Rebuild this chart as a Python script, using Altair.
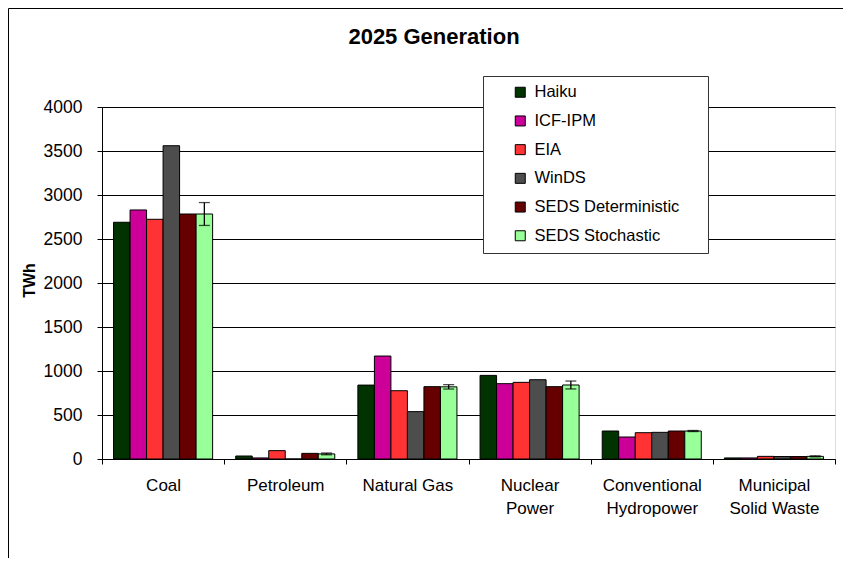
import altair as alt
import pandas as pd

categories = ["Coal", "Petroleum", "Natural Gas", "Nuclear Power",
              "Conventional Hydropower", "Municipal Solid Waste"]
cat_labels = ["Coal", "Petroleum", "Natural Gas", "Nuclear|Power",
              "Conventional|Hydropower", "Municipal|Solid Waste"]
series = ["Haiku", "ICF-IPM", "EIA", "WinDS", "SEDS Deterministic", "SEDS Stochastic"]
colors = ["#003300", "#CC0099", "#FF3333", "#4D4D4D", "#660000", "#99FF99"]

haiku = [2690, 34, 840, 950, 318, 12]
icf_ipm = [2830, 12, 1170, 856, 250, 12]
eia = [2724, 95, 776, 871, 299, 30]
winds = [3560, 0, 538, 901, 303, 28]
seds_det = [2784, 64, 822, 822, 318, 28]
seds_sto = [2784, 58, 820, 841, 318, 30]
seds_sto_err = [130, 10, 25, 45, 6, 6]

values = [haiku, icf_ipm, eia, winds, seds_det, seds_sto]
rows = []
for s, vals in zip(series, values):
    for c, v in zip(categories, vals):
        rows.append({"category": c, "series": s, "value": v})
df = pd.DataFrame(rows)

err_df = pd.DataFrame({
    "category": categories,
    "series": ["SEDS Stochastic"] * len(categories),
    "lo": [v - e for v, e in zip(seds_sto, seds_sto_err)],
    "hi": [v + e for v, e in zip(seds_sto, seds_sto_err)],
})

label_expr = ("split(" + " : ".join(
    [f"datum.value == '{c}' ? '{l}'" for c, l in zip(categories, cat_labels)]
) + " : datum.label, '|')")

FONT = "Liberation Sans"

x_enc = alt.X("category:N", sort=categories,
              scale=alt.Scale(domain=categories, paddingInner=0, paddingOuter=0),
              axis=alt.Axis(title=None, labelExpr=label_expr, labelAngle=0,
                            labelFont=FONT, labelFontSize=17, labelColor="black",
                            labelLineHeight=23, labelPadding=13,
                            tickBand="extent", tickSize=5, tickColor="black",
                            domainColor="black", labelLimit=200, grid=False))
xoff_enc = alt.XOffset("series:N", sort=series,
                       scale=alt.Scale(domain=series, paddingInner=0, paddingOuter=0.7))
y_scale = alt.Scale(domain=[0, 4000], nice=False)

bars = alt.Chart(df).mark_bar(stroke="black", strokeWidth=1).encode(
    x=x_enc,
    xOffset=xoff_enc,
    y=alt.Y("value:Q", scale=y_scale,
            axis=alt.Axis(title="TWh", values=list(range(0, 4001, 500)), format="d",
                          labelFont=FONT, labelFontSize=17.5, labelColor="black",
                          labelPadding=15, tickSize=5, tickColor="black",
                          domainColor="black", gridColor="black", gridWidth=1,
                          titleFont=FONT, titleFontSize=16, titleFontWeight="bold",
                          titleColor="black", titleAngle=-90, titleX=-73, titleY=173,
                          titleAlign="center", titleBaseline="middle")),
    color=alt.Color("series:N", sort=series,
                    scale=alt.Scale(domain=series, range=colors),
                    legend=alt.Legend(title=None, orient="none", legendX=381, legendY=-32,
                                      symbolType="square", symbolSize=100,
                                      symbolStrokeColor="black", symbolStrokeWidth=1,
                                      labelFont=FONT, labelFontSize=16.5, labelColor="black",
                                      labelOffset=6, rowPadding=11.7, padding=9,
                                      symbolOffset=20, strokeColor="transparent",
                                      labelLimit=300)),
)

one = pd.DataFrame({"t": ["2025 Generation"]})

# legend frame (decoration box behind the native legend)
legend_box = alt.Chart(one).mark_rect(fill="white", stroke="#333333", strokeWidth=1).encode(
    x=alt.value(381.5), x2=alt.value(606.5), y=alt.value(-30.5), y2=alt.value(146.5))

err_rule = alt.Chart(err_df).mark_rule(color="black", strokeWidth=1.3).encode(
    x=alt.X("category:N", sort=categories, scale=alt.Scale(domain=categories)),
    xOffset=alt.XOffset("series:N", scale=alt.Scale(domain=series)),
    y=alt.Y("lo:Q", scale=y_scale),
    y2="hi:Q",
)
err_lo = alt.Chart(err_df).mark_tick(color="black", thickness=1.3, size=11).encode(
    x=alt.X("category:N", sort=categories, scale=alt.Scale(domain=categories)),
    xOffset=alt.XOffset("series:N", scale=alt.Scale(domain=series)),
    y=alt.Y("lo:Q", scale=y_scale),
)
err_hi = alt.Chart(err_df).mark_tick(color="black", thickness=1.3, size=11).encode(
    x=alt.X("category:N", sort=categories, scale=alt.Scale(domain=categories)),
    xOffset=alt.XOffset("series:N", scale=alt.Scale(domain=series)),
    y=alt.Y("hi:Q", scale=y_scale),
)

title = alt.Chart(one).mark_text(font=FONT, fontSize=22, fontWeight="bold",
                                 color="black", align="center", baseline="middle").encode(
    text="t:N", x=alt.value(332), y=alt.value(-70))
frame_left = alt.Chart(one).mark_rule(color="black", strokeWidth=1).encode(
    x=alt.value(-93.5), y=alt.value(-98.5), y2=alt.value(460))
frame_top = alt.Chart(one).mark_rule(color="black", strokeWidth=1).encode(
    x=alt.value(-93.5), x2=alt.value(760), y=alt.value(-98.5))

chart = alt.layer(bars, err_rule, err_lo, err_hi, legend_box, title,
                  frame_left, frame_top).properties(
    width=733, height=352,
    autosize=alt.AutoSizeParams(type="none"),
    padding={"left": 94, "top": 99, "right": 8, "bottom": 99},
).configure_view(stroke="#808080", strokeWidth=1).configure(background="white")

chart.save("out.html", embed_options={"renderer": "svg", "actions": False})
